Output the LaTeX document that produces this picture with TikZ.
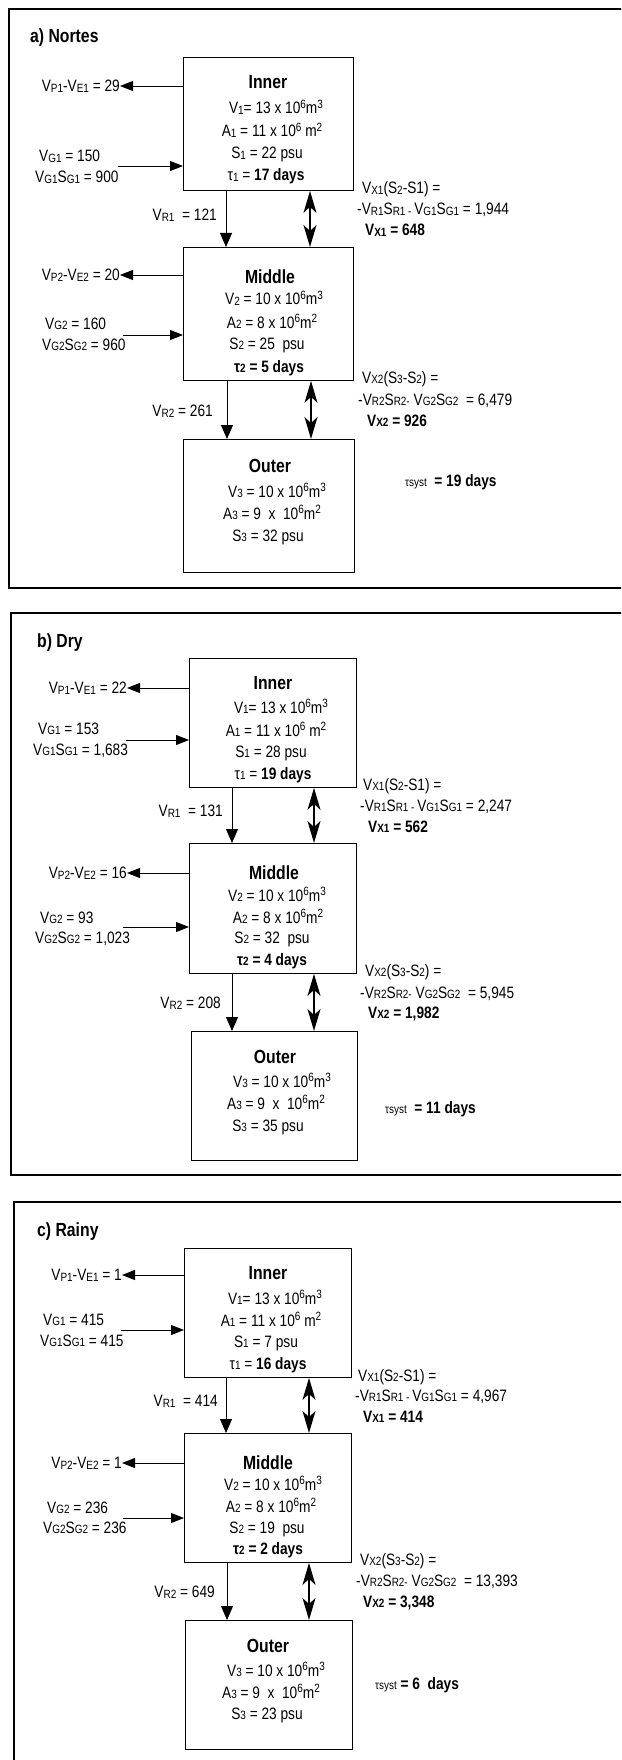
\documentclass[tikz,border=0pt]{standalone}
\usepackage{fontspec}
\setmainfont{Liberation Sans}[FakeStretch=0.83]
\usetikzlibrary{arrows.meta,calc}
\newcommand\fsn{\fontsize{16.5}{19}\selectfont}
\newcommand\fsh{\fontsize{19}{22}\selectfont\bfseries}
\newcommand\sbs[1]{\raisebox{-0.8pt}{\fontsize{12}{12}\selectfont #1}}
\newcommand\sps[1]{\raisebox{5.5pt}{\fontsize{12}{12}\selectfont #1}}
\tikzset{
  frame/.style={line width=1.8pt},
  boxst/.style={draw, line width=0.9pt, rectangle, inner sep=0pt, anchor=north west},
  txt/.style={font=\fsn, inner sep=0pt, anchor=base},
  txw/.style={font=\fsn, inner sep=0pt, anchor=base west},
  lbe/.style={font=\fsn, inner sep=0pt, anchor=east},
  hd/.style={font=\fsh, inner sep=0pt, anchor=base},
  outarr/.style={line width=0.9pt, -{Triangle[length=13pt,width=10pt]}},
  dnarr/.style={line width=0.9pt, -{Triangle[length=14pt,width=12pt]}},
  dblarr/.style={line width=1.5pt, {Stealth[length=22pt,width=13pt,inset=6pt]}-{Stealth[length=22pt,width=13pt,inset=6pt]}}
}
\begin{document}
\begin{tikzpicture}[x=1pt,y=-1pt]
\useasboundingbox (0,0) rectangle (621,1760);
\clip (0,0) rectangle (621,1760);
\fill[white] (0,0) rectangle (621,1760);

% ================= panel a =================
\draw[frame] (700,9) -- (9,9) -- (9,588) -- (700,588);
\node[hd, anchor=base west] (a-title) at (30,43) {a) Nortes};
\node[boxst, minimum width=170pt, minimum height=133pt] (a-in) at (183,57) {};
\node[boxst, minimum width=170pt, minimum height=133pt] (a-mid) at (183,247) {};
\node[boxst, minimum width=171pt, minimum height=133pt] (a-out) at (183,439) {};
\node[hd] (a-in-h) at (268,89) {Inner};
\node[txt] (a-in-v) at (276,114) {V\sbs{1}= 13 x 10\sps{6}m\sps{3}};
\node[txt] (a-in-a) at (272,137) {A\sbs{1} = 11 x 10\sps{6} m\sps{2}};
\node[txt] (a-in-s) at (267,159) {S\sbs{1} = 22 psu};
\node[txt] (a-in-t) at (266,181) {τ\sbs{1} = \textbf{17 days}};
\node[hd] (a-mid-h) at (270,284) {Middle};
\node[txt] (a-mid-v) at (274,305) {V\sbs{2} = 10 x 10\sps{6}m\sps{3}};
\node[txt] (a-mid-a) at (272,328) {A\sbs{2} = 8 x 10\sps{6}m\sps{2}};
\node[txt] (a-mid-s) at (267,349) {S\sbs{2} = 25\ \ psu};
\node[txt] (a-mid-t) at (269,372) {\bfseries τ\sbs{2} = 5 days};
\node[hd] (a-out-h) at (270,472) {Outer};
\node[txt] (a-out-v) at (277,497) {V\sbs{3} = 10 x 10\sps{6}m\sps{3}};
\node[txt] (a-out-a) at (272,519) {A\sbs{3} = 9\ \ x\ \ 10\sps{6}m\sps{2}};
\node[txt] (a-out-s) at (268,541) {S\sbs{3} = 32 psu};
\node[lbe] (a-pe1) at (120,86) {V\sbs{P1}-V\sbs{E1} = 29};
\draw[outarr] (a-in.west |- a-pe1.east) -- (a-pe1.east);
\node[txw] (a-g1) at (39,162) {V\sbs{G1} = 150};
\node[txw] (a-gs1) at (35,183) {V\sbs{G1}S\sbs{G1} = 900};
\coordinate (a-gi1) at (118,166);
\draw[outarr] (a-gi1) -- (a-gi1 -| a-in.west);
\node[lbe] (a-pe2) at (120,275) {V\sbs{P2}-V\sbs{E2} = 20};
\draw[outarr] (a-mid.west |- a-pe2.east) -- (a-pe2.east);
\node[txw] (a-g2) at (45,329) {V\sbs{G2} = 160};
\node[txw] (a-gs2) at (42,350) {V\sbs{G2}S\sbs{G2} = 960};
\coordinate (a-gi2) at (123,335);
\draw[outarr] (a-gi2) -- (a-gi2 -| a-mid.west);
\draw[dnarr] ($(a-in.south west)+(43,0)$) -- ($(a-mid.north west)+(43,0)$);
\node[lbe] (a-r1) at (217,215) {V\sbs{R1}\ \ = 121};
\draw[dblarr] ($(a-in.south west)+(127,0)$) -- ($(a-mid.north west)+(127,0)$);
\draw[dnarr] ($(a-mid.south west)+(44,0)$) -- ($(a-out.north west)+(44,0)$);
\node[lbe] (a-r2) at (213,411) {V\sbs{R2} = 261};
\draw[dblarr] ($(a-mid.south west)+(128,0)$) -- ($(a-out.north west)+(128,0)$);
\node[txw] (a-x1a) at (362,194) {V\sbs{X1}(S\sbs{2}-S1) =};
\node[txw] (a-x1b) at (357,215) {-V\sbs{R1}S\sbs{R1}\,\sbs{-}\,V\sbs{G1}S\sbs{G1} = 1,944};
\node[txw] (a-x1c) at (365,236) {\bfseries V\sbs{X1} = 648};
\node[txw] (a-x2a) at (362,383) {V\sbs{X2}(S\sbs{3}-S\sbs{2}) =};
\node[txw] (a-x2b) at (358,405) {-V\sbs{R2}S\sbs{R2}\sbs{-} V\sbs{G2}S\sbs{G2}\ \ = 6,479};
\node[txw] (a-x2c) at (367,426) {\bfseries V\sbs{X2} = 926};
\node[txw] (a-ts) at (405,486) {\sbs{τsyst}\ \ \textbf{= 19 days}};

% ================= panel b =================
\draw[frame] (700,613) -- (11,613) -- (11,1175) -- (700,1175);
\node[hd, anchor=base west] (b-title) at (37,647) {b) Dry};
\node[boxst, minimum width=167pt, minimum height=129pt] (b-in) at (189,658) {};
\node[boxst, minimum width=167pt, minimum height=130pt] (b-mid) at (189,843) {};
\node[boxst, minimum width=166pt, minimum height=129pt] (b-out) at (191,1031) {};
\node[hd] (b-in-h) at (273,689) {Inner};
\node[txt] (b-in-v) at (281,713) {V\sbs{1}= 13 x 10\sps{6}m\sps{3}};
\node[txt] (b-in-a) at (276,736) {A\sbs{1} = 11 x 10\sps{6} m\sps{2}};
\node[txt] (b-in-s) at (271,757) {S\sbs{1} = 28 psu};
\node[txt] (b-in-t) at (273,779) {τ\sbs{1} = \textbf{19 days}};
\node[hd] (b-mid-h) at (274,879) {Middle};
\node[txt] (b-mid-v) at (277,901) {V\sbs{2} = 10 x 10\sps{6}m\sps{3}};
\node[txt] (b-mid-a) at (278,923) {A\sbs{2} = 8 x 10\sps{6}m\sps{2}};
\node[txt] (b-mid-s) at (272,943) {S\sbs{2} = 32\ \ psu};
\node[txt] (b-mid-t) at (272,965) {\bfseries τ\sbs{2} = 4 days};
\node[hd] (b-out-h) at (275,1063) {Outer};
\node[txt] (b-out-v) at (282,1087) {V\sbs{3} = 10 x 10\sps{6}m\sps{3}};
\node[txt] (b-out-a) at (276,1109) {A\sbs{3} = 9\ \ x\ \ 10\sps{6}m\sps{2}};
\node[txt] (b-out-s) at (268,1131) {S\sbs{3} = 35 psu};
\node[lbe] (b-pe1) at (127,688) {V\sbs{P1}-V\sbs{E1} = 22};
\draw[outarr] (b-in.west |- b-pe1.east) -- (b-pe1.east);
\node[txw] (b-g1) at (38,734) {V\sbs{G1} = 153};
\node[txw] (b-gs1) at (33,755) {V\sbs{G1}S\sbs{G1} = 1,683};
\coordinate (b-gi1) at (126,740);
\draw[outarr] (b-gi1) -- (b-gi1 -| b-in.west);
\node[lbe] (b-pe2) at (127,873) {V\sbs{P2}-V\sbs{E2} = 16};
\draw[outarr] (b-mid.west |- b-pe2.east) -- (b-pe2.east);
\node[txw] (b-g2) at (40,923) {V\sbs{G2} = 93};
\node[txw] (b-gs2) at (35,943) {V\sbs{G2}S\sbs{G2} = 1,023};
\coordinate (b-gi2) at (123,927);
\draw[outarr] (b-gi2) -- (b-gi2 -| b-mid.west);
\draw[dnarr] ($(b-in.south west)+(43,0)$) -- ($(b-mid.north west)+(43,0)$);
\node[lbe] (b-r1) at (223,811) {V\sbs{R1}\ \ = 131};
\draw[dblarr] ($(b-in.south west)+(125,0)$) -- ($(b-mid.north west)+(125,0)$);
\draw[dnarr] ($(b-mid.south west)+(43,0)$) -- ($(b-out.north west)+(41,0)$);
\node[lbe] (b-r2) at (221,1003) {V\sbs{R2} = 208};
\draw[dblarr] ($(b-mid.south west)+(125,0)$) -- ($(b-out.north west)+(123,0)$);
\node[txw] (b-x1a) at (363,790) {V\sbs{X1}(S\sbs{2}-S1) =};
\node[txw] (b-x1b) at (360,811) {-V\sbs{R1}S\sbs{R1}\,\sbs{-}\,V\sbs{G1}S\sbs{G1} = 2,247};
\node[txw] (b-x1c) at (368,832) {\bfseries V\sbs{X1} = 562};
\node[txw] (b-x2a) at (365,976) {V\sbs{X2}(S\sbs{3}-S\sbs{2}) =};
\node[txw] (b-x2b) at (360,998) {-V\sbs{R2}S\sbs{R2}\sbs{-} V\sbs{G2}S\sbs{G2}\ \ = 5,945};
\node[txw] (b-x2c) at (368,1018) {\bfseries V\sbs{X2} = 1,982};
\node[txw] (b-ts) at (385,1113) {\sbs{τsyst}\ \ \textbf{= 11 days}};

% ================= panel c =================
\draw[frame] (700,1202) -- (14,1202) -- (14,1800);
\node[hd, anchor=base west] (c-title) at (37,1236) {c) Rainy};
\node[boxst, minimum width=167pt, minimum height=129pt] (c-in) at (184,1248) {};
\node[boxst, minimum width=167pt, minimum height=129pt] (c-mid) at (184,1433) {};
\node[boxst, minimum width=167pt, minimum height=129pt] (c-out) at (185,1620) {};
\node[hd] (c-in-h) at (268,1279) {Inner};
\node[txt] (c-in-v) at (275,1304) {V\sbs{1}= 13 x 10\sps{6}m\sps{3}};
\node[txt] (c-in-a) at (271,1326) {A\sbs{1} = 11 x 10\sps{6} m\sps{2}};
\node[txt] (c-in-s) at (266,1347) {S\sbs{1} = 7 psu};
\node[txt] (c-in-t) at (268,1369) {τ\sbs{1} = \textbf{16 days}};
\node[hd] (c-mid-h) at (268,1469) {Middle};
\node[txt] (c-mid-v) at (273,1490) {V\sbs{2} = 10 x 10\sps{6}m\sps{3}};
\node[txt] (c-mid-a) at (271,1512) {A\sbs{2} = 8 x 10\sps{6}m\sps{2}};
\node[txt] (c-mid-s) at (267,1533) {S\sbs{2} = 19\ \ psu};
\node[txt] (c-mid-t) at (268,1554) {\bfseries τ\sbs{2} = 2 days};
\node[hd] (c-out-h) at (268,1652) {Outer};
\node[txt] (c-out-v) at (276,1676) {V\sbs{3} = 10 x 10\sps{6}m\sps{3}};
\node[txt] (c-out-a) at (271,1698) {A\sbs{3} = 9\ \ x\ \ 10\sps{6}m\sps{2}};
\node[txt] (c-out-s) at (267,1719) {S\sbs{3} = 23 psu};
\node[lbe] (c-pe1) at (122,1275) {V\sbs{P1}-V\sbs{E1} = 1};
\draw[outarr] (c-in.west |- c-pe1.east) -- (c-pe1.east);
\node[txw] (c-g1) at (43,1325) {V\sbs{G1} = 415};
\node[txw] (c-gs1) at (40,1346) {V\sbs{G1}S\sbs{G1} = 415};
\coordinate (c-gi1) at (121,1330);
\draw[outarr] (c-gi1) -- (c-gi1 -| c-in.west);
\node[lbe] (c-pe2) at (122,1463) {V\sbs{P2}-V\sbs{E2} = 1};
\draw[outarr] (c-mid.west |- c-pe2.east) -- (c-pe2.east);
\node[txw] (c-g2) at (47,1513) {V\sbs{G2} = 236};
\node[txw] (c-gs2) at (43,1533) {V\sbs{G2}S\sbs{G2} = 236};
\coordinate (c-gi2) at (123,1518);
\draw[outarr] (c-gi2) -- (c-gi2 -| c-mid.west);
\draw[dnarr] ($(c-in.south west)+(42,0)$) -- ($(c-mid.north west)+(42,0)$);
\node[lbe] (c-r1) at (218,1401) {V\sbs{R1}\ \ = 414};
\draw[dblarr] ($(c-in.south west)+(125,0)$) -- ($(c-mid.north west)+(125,0)$);
\draw[dnarr] ($(c-mid.south west)+(43,0)$) -- ($(c-out.north west)+(42,0)$);
\node[lbe] (c-r2) at (215,1592) {V\sbs{R2} = 649};
\draw[dblarr] ($(c-mid.south west)+(125,0)$) -- ($(c-out.north west)+(124,0)$);
\node[txw] (c-x1a) at (358,1381) {V\sbs{X1}(S\sbs{2}-S1) =};
\node[txw] (c-x1b) at (355,1401) {-V\sbs{R1}S\sbs{R1}\,\sbs{-}\,V\sbs{G1}S\sbs{G1} = 4,967};
\node[txw] (c-x1c) at (363,1422) {\bfseries V\sbs{X1} = 414};
\node[txw] (c-x2a) at (360,1565) {V\sbs{X2}(S\sbs{3}-S\sbs{2}) =};
\node[txw] (c-x2b) at (356,1586) {-V\sbs{R2}S\sbs{R2}\sbs{-} V\sbs{G2}S\sbs{G2}\ \ = 13,393};
\node[txw] (c-x2c) at (363,1607) {\bfseries V\sbs{X2} = 3,348};
\node[txw] (c-ts) at (375,1689) {\sbs{τsyst} \textbf{= 6\ \ days}};
\end{tikzpicture}
\end{document}
